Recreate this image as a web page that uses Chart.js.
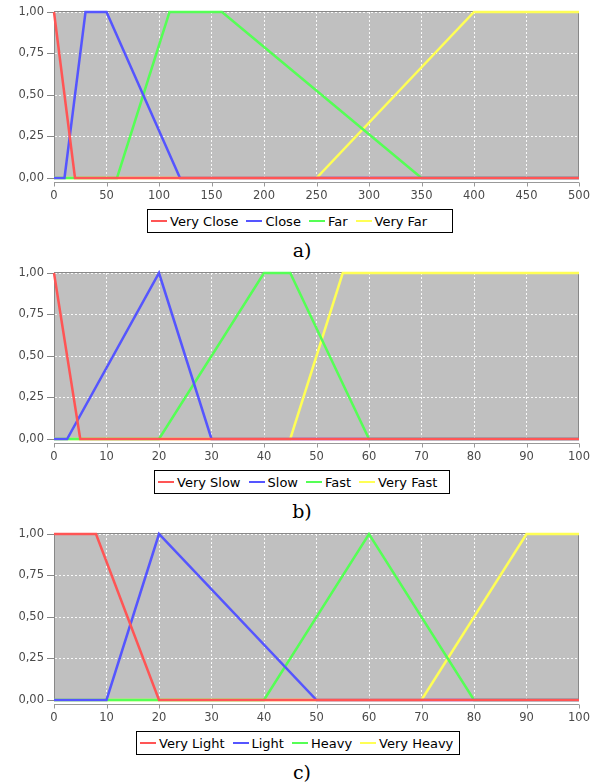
<!DOCTYPE html>
<html>
<head>
<meta charset="utf-8">
<script src="https://cdn.jsdelivr.net/npm/chart.js@4.4.1/dist/chart.umd.min.js"></script>
<style>
  body { margin:0; background:#fff; width:595px; height:782px; position:relative; overflow:hidden; }
  .panel { position:absolute; left:0; width:595px; height:261px; }
  .panel canvas { position:absolute; left:0; top:0; }
  .legend { position:absolute; top:209px; height:24px; box-sizing:border-box; border:1px solid #000;
            font:13px "DejaVu Sans", sans-serif; color:#000; display:flex; align-items:center;
            padding-left:3px; white-space:nowrap; }
  .legend .item { display:inline-flex; align-items:center; margin-right:8px; }
  .legend .swatch { display:inline-block; width:16px; height:2px; margin-right:3px; }
  .caption { position:absolute; top:240px; left:252px; width:100px; text-align:center;
             font:19px "DejaVu Serif", serif; line-height:20px; color:#000; }
</style>
</head>
<body>
<div class="panel" style="top:0px"><canvas id="chartA" width="595" height="205"></canvas>
  <div class="legend" id="legendA" style="left:147px;width:306px"></div><div class="caption">a)</div></div>
<div class="panel" style="top:261px"><canvas id="chartB" width="595" height="205"></canvas>
  <div class="legend" id="legendB" style="left:154px;width:296px"></div><div class="caption">b)</div></div>
<div class="panel" style="top:522px"><canvas id="chartC" width="595" height="205"></canvas>
  <div class="legend" id="legendC" style="left:136px;width:324px"></div><div class="caption">c)</div></div>
<script>
// membership functions, points as [x, y]
var distanceNames = ['Very Close', 'Close', 'Far', 'Very Far'];
var veryClose = [[0, 1], [20, 0], [500, 0]];
var close = [[0, 0], [10, 0], [30, 1], [50, 1], [120, 0], [500, 0]];
var far = [[0, 0], [60, 0], [110, 1], [160, 1], [350, 0], [500, 0]];
var veryFar = [[0, 0], [250, 0], [400, 1], [500, 1]];

var speedNames = ['Very Slow', 'Slow', 'Fast', 'Very Fast'];
var verySlow = [[0, 1], [5, 0], [100, 0]];
var slow = [[0, 0], [2.5, 0], [20, 1], [30, 0], [100, 0]];
var fast = [[0, 0], [20, 0], [40, 1], [45, 1], [60, 0], [100, 0]];
var veryFast = [[0, 0], [45, 0], [55, 1], [100, 1]];

var weightNames = ['Very Light', 'Light', 'Heavy', 'Very Heavy'];
var veryLight = [[0, 1], [8, 1], [20, 0], [100, 0]];
var light = [[0, 0], [10, 0], [20, 1], [50, 0], [100, 0]];
var heavy = [[0, 0], [40, 0], [60, 1], [80, 0], [100, 0]];
var veryHeavy = [[0, 0], [70, 0], [90, 1], [100, 1]];

var distanceTicks = [0, 50, 100, 150, 200, 250, 300, 350, 400, 450, 500];
var percentTicks = [0, 10, 20, 30, 40, 50, 60, 70, 80, 90, 100];
var yTickLabels = ['0,00', '0,25', '0,50', '0,75', '1,00'];

var seriesColors = ['#ff5555', '#5555ff', '#55ff55', '#ffff55'];

// grey plot background + outline, and the offset x axis line
var plotFrame = {
  id: 'plotFrame',
  beforeDraw: function(chart) {
    var a = chart.chartArea, ctx = chart.ctx;
    ctx.save();
    ctx.fillStyle = '#c0c0c0';
    ctx.fillRect(a.left, a.top, a.right - a.left, a.bottom - a.top);
    ctx.restore();
  },
  beforeDatasetsDraw: function(chart) {
    var a = chart.chartArea, ctx = chart.ctx;
    ctx.save();
    ctx.strokeStyle = '#888';
    ctx.lineWidth = 1;
    ctx.strokeRect(a.left + 0.5, a.top - 0.5, a.right - a.left - 1, a.bottom - a.top + 1);
    // x axis line a few px under the plot, with its tick marks
    var xs = chart.scales.x, y0 = a.bottom + 4.5;
    ctx.strokeStyle = '#999';
    ctx.beginPath();
    ctx.moveTo(a.left, y0);
    ctx.lineTo(a.right, y0);
    xs.ticks.forEach(function(t, i) {
      var px = Math.round(xs.getPixelForTick(i)) + 0.5;
      ctx.moveTo(px, y0);
      ctx.lineTo(px, y0 + 4);
    });
    ctx.stroke();
    ctx.restore();
  }
};

function toPoints(arr) {
  return arr.map(function(p) { return {x: p[0], y: p[1]}; });
}

function makeChart(canvasId, legendId, names, series, xMax, xStep, xTicks) {
  var datasets = series.map(function(s, i) {
    return {
      label: names[i],
      data: toPoints(s),
      borderColor: seriesColors[i],
      backgroundColor: seriesColors[i],
      borderWidth: 2.5,
      pointRadius: 0,
      tension: 0,
      clip: 4
    };
  });
  var tickFont = {family: '"DejaVu Sans", sans-serif', size: 11.5};
  var chart = new Chart(document.getElementById(canvasId), {
    type: 'line',
    data: {datasets: datasets},
    plugins: [plotFrame],
    options: {
      responsive: false,
      animation: false,
      layout: {padding: {top: 12, right: 16, left: 0, bottom: 0}},
      plugins: {legend: {display: false}, tooltip: {enabled: false}},
      scales: {
        x: {
          type: 'linear', min: 0, max: xMax,
          afterBuildTicks: function(scale) {
            scale.ticks = xTicks.map(function(v) { return {value: v}; });
          },
          afterFit: function(scale) {
            scale.height = 27;
            scale.paddingLeft = 0;
            scale.paddingRight = 0;
          },
          ticks: {stepSize: xStep, maxRotation: 0, autoSkip: false, padding: 11,
                  color: '#4a4a4a', font: tickFont},
          grid: {color: 'rgba(255,255,255,0.9)', lineWidth: 1, drawTicks: false},
          border: {display: false, dash: [2, 2]}
        },
        y: {
          type: 'linear', min: 0, max: 1,
          afterFit: function(scale) {
            scale.width = 54;
            scale.paddingTop = 0;
            scale.paddingBottom = 0;
          },
          ticks: {stepSize: 0.25, padding: 3, color: '#4a4a4a', font: tickFont,
                  callback: function(v, i) { return yTickLabels[i]; }},
          grid: {color: 'rgba(255,255,255,0.9)', lineWidth: 1, tickLength: 7, tickColor: '#888'},
          border: {display: true, color: '#777', width: 1, dash: [2, 2]}
        }
      }
    }
  });
  var legend = document.getElementById(legendId);
  datasets.forEach(function(d) {
    var item = document.createElement('span');
    item.className = 'item';
    var sw = document.createElement('span');
    sw.className = 'swatch';
    sw.style.background = d.borderColor;
    item.appendChild(sw);
    item.appendChild(document.createTextNode(d.label));
    legend.appendChild(item);
  });
  return chart;
}

makeChart('chartA', 'legendA', distanceNames, [veryClose, close, far, veryFar], 500, 50, distanceTicks);
makeChart('chartB', 'legendB', speedNames, [verySlow, slow, fast, veryFast], 100, 10, percentTicks);
makeChart('chartC', 'legendC', weightNames, [veryLight, light, heavy, veryHeavy], 100, 10, percentTicks);
</script>
</body>
</html>
